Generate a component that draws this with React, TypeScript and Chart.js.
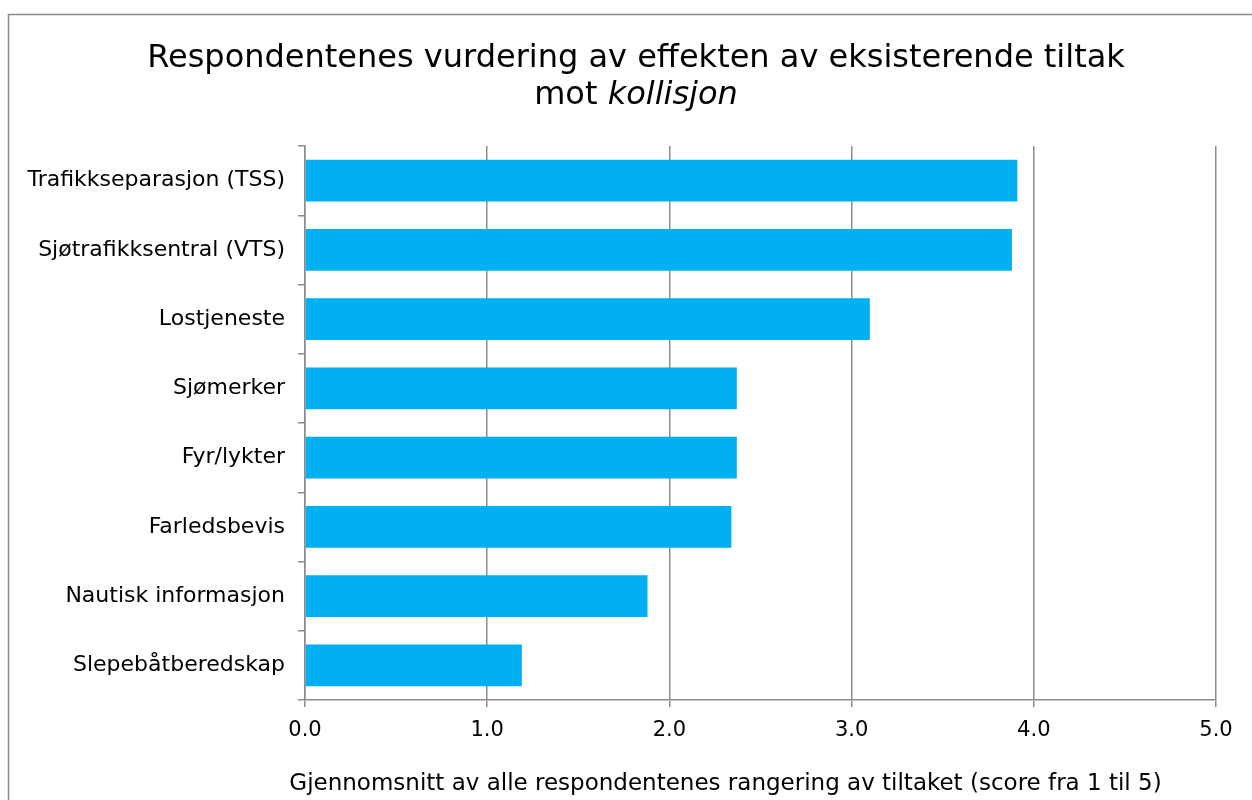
import React, { useEffect, useRef } from "react";
import { Chart, registerables } from "chart.js";

Chart.register(...registerables);

const categories = [
  "Trafikkseparasjon (TSS)",
  "Sjøtrafikksentral (VTS)",
  "Lostjeneste",
  "Sjømerker",
  "Fyr/lykter",
  "Farledsbevis",
  "Nautisk informasjon",
  "Slepebåtberedskap",
];
const values = [3.91, 3.88, 3.1, 2.37, 2.37, 2.34, 1.88, 1.19];
const titleLine1 = "Respondentenes vurdering av effekten av eksisterende tiltak";
const titleLine2Normal = "mot ";
const titleLine2Italic = "kollisjon";
const axisTitle =
  "Gjennomsnitt av alle respondentenes rangering av tiltaket (score fra 1 til 5)";

const FONT = "'DejaVu Sans', Verdana, sans-serif";

const framePlugin = {
  id: "frameAndTitle",
  beforeDraw(chart: any) {
    const ctx = chart.ctx;
    ctx.save();
    ctx.fillStyle = "#ffffff";
    ctx.fillRect(0, 0, chart.width, chart.height);
    ctx.strokeStyle = "#8a8a8a";
    ctx.lineWidth = 1.5;
    ctx.strokeRect(8.5, 14.5, 1400, 1000);
    ctx.restore();
  },
  afterDraw(chart: any) {
    const ctx = chart.ctx;
    ctx.save();
    const cx = 636;
    ctx.fillStyle = "#000000";
    ctx.textBaseline = "alphabetic";
    ctx.font = `32px ${FONT}`;
    ctx.textAlign = "center";
    ctx.fillText(titleLine1, cx, 67);
    ctx.textAlign = "left";
    const wN = ctx.measureText(titleLine2Normal).width;
    ctx.font = `italic 32px ${FONT}`;
    const wI = ctx.measureText(titleLine2Italic).width;
    const start = cx - (wN + wI) / 2;
    ctx.font = `32px ${FONT}`;
    ctx.fillText(titleLine2Normal, start, 104);
    ctx.font = `italic 32px ${FONT}`;
    ctx.fillText(titleLine2Italic, start + wN, 104);
    ctx.font = `23px ${FONT}`;
    ctx.textAlign = "center";
    ctx.fillText(axisTitle, 725.5, 790);
    ctx.restore();
  },
};

export default function App() {
  const ref = useRef<HTMLCanvasElement | null>(null);
  useEffect(() => {
    if (!ref.current) return;
    const chart = new Chart(ref.current, {
      type: "bar",
      data: {
        labels: categories,
        datasets: [
          {
            data: values,
            backgroundColor: "#00B0F0",
            borderWidth: 0,
            categoryPercentage: 1,
            barPercentage: 0.6,
          },
        ],
      },
      options: {
        indexAxis: "y",
        animation: false,
        responsive: false,
        maintainAspectRatio: false,
        layout: { padding: { top: 146, left: 0, right: 36, bottom: 0 } },
        plugins: {
          legend: { display: false },
          title: { display: false },
          tooltip: { enabled: false },
        },
        scales: {
          x: {
            min: 0,
            max: 5,
            ticks: {
              stepSize: 1,
              color: "#000",
              font: { family: FONT, size: 21 },
              padding: 11,
              callback: (v: any) => Number(v).toFixed(1),
            },
            grid: {
              color: "#8c8c8c",
              lineWidth: 1.5,
              tickLength: 7,
              drawTicks: true,
            },
            border: { color: "#8c8c8c", width: 1.5 },
            title: { display: false },
            afterFit: (s: any) => {
              s.height = 100;
            },
          },
          y: {
            ticks: {
              color: "#000",
              font: { family: FONT, size: 22 },
              padding: 13,
            },
            grid: {
              offset: true,
              drawOnChartArea: false,
              drawTicks: true,
              tickLength: 7,
              color: "#8c8c8c",
              lineWidth: 1.5,
            },
            border: { color: "#8c8c8c", width: 1.5 },
            afterFit: (s: any) => {
              s.width = 305;
            },
          },
        },
      },
      plugins: [framePlugin],
    });
    return () => chart.destroy();
  }, []);
  return (
    <div style={{ position: "absolute", left: 0, top: 0, width: 1252, height: 800 }}>
      <canvas ref={ref} width={1252} height={800} style={{ display: "block" }} />
    </div>
  );
}
